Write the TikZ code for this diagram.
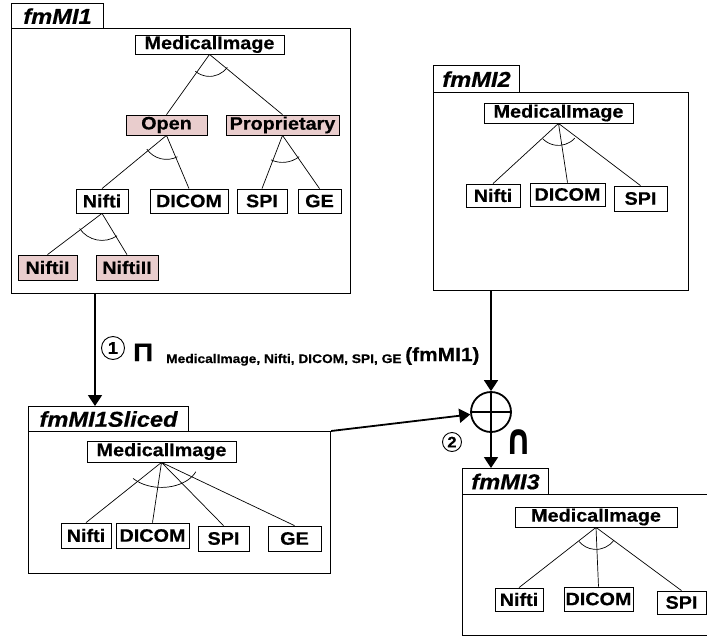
\documentclass[tikz,border=0pt]{standalone}
\usepackage{fontspec}
\usepackage{graphicx}
\setmainfont{Liberation Sans}
\newfontfamily\diafont[FakeStretch=1.1,
  BoldFeatures={FakeBold=0.5}, BoldItalicFeatures={FakeBold=0.5}]{Liberation Sans}
\newfontfamily\symfont{DejaVu Sans}
\usetikzlibrary{arrows.meta}
\definecolor{featpink}{RGB}{233,205,205}
\newcommand{\bsz}[1]{\diafont\bfseries\fontsize{#1}{#1}\selectfont}
\begin{document}
\begin{tikzpicture}[x=1pt,y=-1pt,
  sz/.style 2 args={minimum width=#1pt,minimum height=#2pt},
  feat/.style={draw, line width=0.8pt, inner sep=0pt, fill=white, font=\bsz{18}},
  abstract/.style={feat, fill=featpink},
  link/.style={line width=0.7pt},
  grp/.style={line width=0.7pt},
  model/.style={draw, line width=1.1pt, anchor=north west, inner sep=0pt},
  modeltab/.style={draw, line width=1.1pt, anchor=north west, inner sep=0pt,
    font=\diafont\bfseries\itshape\fontsize{21.5}{21.5}\selectfont},
  flow/.style={line width=1.8pt, -{Triangle[width=14pt,length=11pt]}},
  numcirc/.style={circle, draw, line width=0.9pt, inner sep=0pt},
  lbl/.style={inner sep=0pt, anchor=base west},
]
\clip (0,0) rectangle (707,637);
\fill[white] (0,0) rectangle (707,637);

% ---------- fmMI1 ----------
\node[modeltab, sz={92}{25}] (t1) at (11,3) {fmMI1};
\node[model, sz={339}{265}] (m1) at (11,28) {};
\node[feat, sz={149}{19}] (a-mi) at (209.5,44.5) {MedicalImage};
\node[abstract, sz={81}{20}] (a-open) at (166.5,125) {Open};
\node[abstract, sz={113}{20}] (a-prop) at (282.5,125) {Proprietary};
\node[feat, sz={52}{24}] (a-nifti) at (102,201) {Nifti};
\node[feat, sz={78}{24}] (a-dicom) at (189,201) {DICOM};
\node[feat, sz={50}{24}] (a-spi) at (262,201) {SPI};
\node[feat, sz={43}{24}] (a-ge) at (319.5,201) {GE};
\node[abstract, sz={59}{25}] (a-n1) at (47.5,267.5) {NiftiI};
\node[abstract, sz={62}{25}] (a-n2) at (127,267.5) {NiftiII};
\draw[link] (a-mi.south) -- (a-open.north) (a-mi.south) -- (a-prop.north);
\draw[link] (a-open.south) -- (a-nifti.north) (a-open.south) -- (a-dicom.north);
\draw[link] (a-prop.south) -- (a-spi.north) (a-prop.south) -- (a-ge.north);
\draw[link] (a-nifti.south) -- (a-n1.north) (a-nifti.south) -- (a-n2.north);
\draw[grp] (a-mi.south) ++(36:22) arc[start angle=36, end angle=130, radius=22];
\draw[grp] (a-open.south) ++(63:24) arc[start angle=63, end angle=145, radius=24];
\draw[grp] (a-prop.south) ++(52:27) arc[start angle=52, end angle=115, radius=27];
\draw[grp] (a-nifti.south) ++(56:27) arc[start angle=56, end angle=146, radius=27];

% ---------- fmMI2 ----------
\node[modeltab, sz={86}{27}] (t2) at (433,65) {fmMI2};
\node[model, sz={255}{198}] (m2) at (433,92) {};
\node[feat, sz={149}{20}] (b-mi) at (558.5,113) {MedicalImage};
\node[feat, sz={54}{23}] (b-nifti) at (493,195.5) {Nifti};
\node[feat, sz={75}{23}] (b-dicom) at (567.5,194.5) {DICOM};
\node[feat, sz={53}{25}] (b-spi) at (640.5,198.5) {SPI};
\draw[link] (b-mi.south) -- (b-nifti.north) (b-mi.south) -- (b-dicom.north)
            (b-mi.south) -- (b-spi.north);
\draw[grp] (b-mi.south) ++(42:22) arc[start angle=42, end angle=135, radius=22];

% ---------- fmMI1Sliced ----------
\node[modeltab, sz={160}{25}] (ts) at (28,406) {fmMI1Sliced};
\node[model, sz={302}{142}] (ms) at (28,431) {};
\node[feat, sz={149}{21}] (s-mi) at (161.5,451.5) {MedicalImage};
\node[feat, sz={50}{25}] (s-nifti) at (86,535.5) {Nifti};
\node[feat, sz={73}{25}] (s-dicom) at (152.5,535.5) {DICOM};
\node[feat, sz={51}{25}] (s-spi) at (223.5,538.5) {SPI};
\node[feat, sz={53}{25}] (s-ge) at (294.5,538.5) {GE};
\draw[link] (s-mi.south) -- (s-nifti.north) (s-mi.south) -- (s-dicom.north)
            (s-mi.south) -- (s-spi.north) (s-mi.south) -- (s-ge.north);
\draw[grp] (s-mi.south) ++(22:37 and 25)
  arc[start angle=22, end angle=140, x radius=37, y radius=25];

% ---------- fmMI3 ----------
\node[modeltab, sz={86}{26}] (t3) at (462,468) {fmMI3};
\node[model, sz={250}{141}] (m3) at (462,494) {};
\node[feat, sz={162}{20}] (c-mi) at (596,517) {MedicalImage};
\node[feat, sz={48}{23}] (c-nifti) at (519,599.5) {Nifti};
\node[feat, sz={69}{24}] (c-dicom) at (598.5,599) {DICOM};
\node[feat, sz={49}{23}] (c-spi) at (681.5,602.5) {SPI};
\draw[link] (c-mi.south) -- (c-nifti.north) (c-mi.south) -- (c-dicom.north)
            (c-mi.south) -- (c-spi.north);
\draw[grp] (c-mi.south) ++(35:22) arc[start angle=35, end angle=140, radius=22];

% ---------- operations ----------
\node[circle, draw, line width=1.8pt, minimum size=40pt, inner sep=0pt] (op) at (491,412) {};
\draw[line width=1.6pt] (op.north) -- (op.south) (op.west) -- (op.east);

\coordinate (p1) at (95,293);
\draw[flow] (p1) -- (p1 |- ts.north);
\draw[flow] (op |- m2.south) -- (op.north);
\draw[flow] (ms.north east) -- (op);
\draw[flow] (op.south) -- (op.south |- t3.north);

% projection label
\node[numcirc, minimum size=23pt, font=\bsz{17}] (n1) at (113,348) {1};
\node[lbl, font=\bsz{25}] (proj) at (133,361) {Π};
\node[lbl, font=\bsz{12.5}] (projsub) at (166,363) {MedicalImage, Nifti, DICOM, SPI, GE};
\node[lbl, font=\bsz{19}] (projarg) at (405,361) {(fmMI1)};

% intersection label
\node[numcirc, minimum size=19pt, font=\bsz{15}] (n2) at (452,442) {2};
\node[inner sep=0pt] (inter) at (518.5,442)
  {\scalebox{1}[1.3]{\symfont\bfseries\fontsize{33}{33}\selectfont ∩}};
\end{tikzpicture}
\end{document}
